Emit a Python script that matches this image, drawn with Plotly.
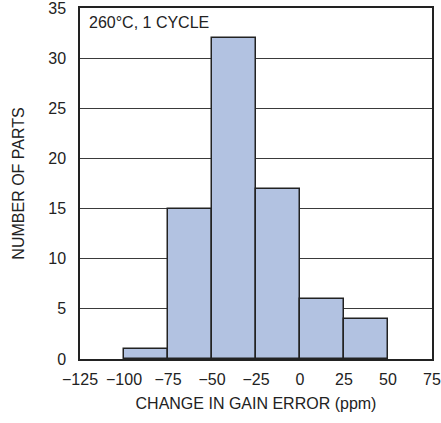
import plotly.graph_objects as go

bin_left = [-100, -75, -50, -25, 0, 25]
bin_width = 25
counts = [1, 15, 32, 17, 6, 4]
x_ticks = [-125, -100, -75, -50, -25, 0, 25, 50, 75]
x_tick_text = ["\u2212125", "\u2212100", "\u221275", "\u221250", "\u221225", "0", "25", "50", "75"]
y_ticks = [0, 5, 10, 15, 20, 25, 30, 35]

FONT = "Liberation Sans, Arial, sans-serif"

centers = [b + bin_width / 2 for b in bin_left]

fig = go.Figure()
fig.add_trace(go.Bar(
    x=centers, y=counts, width=[bin_width] * len(counts),
    marker=dict(color="#B2C2E1", line=dict(color="#222222", width=1.5)),
    showlegend=False,
))

fig.update_layout(
    width=441, height=423,
    margin=dict(l=80, r=9, t=8, b=64, autoexpand=False),
    paper_bgcolor="white", plot_bgcolor="white",
    font=dict(family=FONT, size=16, color="#222222"),
    bargap=0,
    xaxis=dict(
        range=[-125, 75], tickvals=x_ticks, ticktext=x_tick_text,
        showgrid=False, zeroline=False, showline=True, linecolor="#222222", linewidth=1.5,
        mirror=True, ticks="", ticklabelstandoff=5, automargin=False,
        ticklabeloverflow="allow",
        title=dict(text="CHANGE IN GAIN ERROR (ppm)", standoff=11, font=dict(size=16)),
    ),
    yaxis=dict(
        range=[0, 35], tickvals=y_ticks,
        showgrid=True, gridcolor="#3a3a3a", gridwidth=1,
        zeroline=False, showline=True, linecolor="#222222", linewidth=1.5,
        mirror=True, ticks="", ticklabelstandoff=9, automargin=False,
        ticklabeloverflow="allow",
        title=dict(text="NUMBER OF PARTS", standoff=20, font=dict(size=16)),
    ),
    annotations=[dict(
        text="260\u00b0C, 1 CYCLE", xref="paper", yref="paper", x=0.02, y=0.99,
        xanchor="left", yanchor="top", showarrow=False, font=dict(size=16),
    )],
)

fig.write_html("out.html")
